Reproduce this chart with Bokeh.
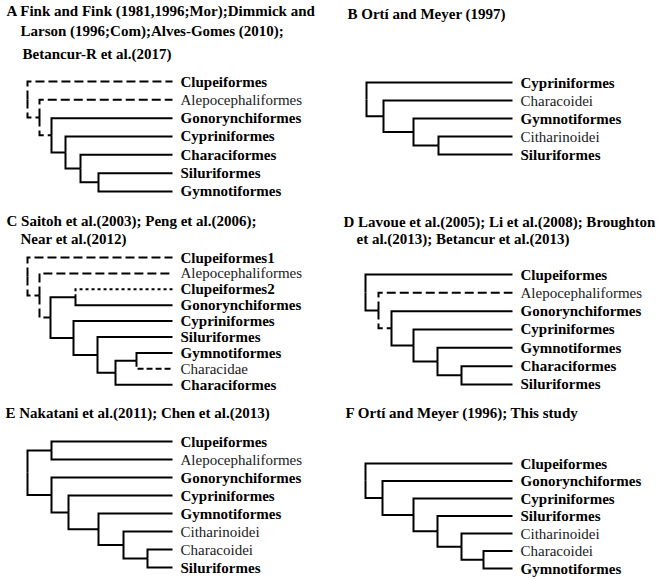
from bokeh.plotting import figure
from bokeh.models import Range1d, ColumnDataSource
from bokeh.embed import file_html
from bokeh.resources import INLINE
from bokeh.core.properties import value

# ------------------------------------------------------------------ data
regular_taxa = ["Alepocephaliformes", "Characoidei", "Citharinoidei", "Characidae"]

A_title = ["A Fink and Fink (1981,1996;Mor);Dimmick and",
           "Larson (1996;Com);Alves-Gomes (2010);",
           "Betancur-R et al.(2017)"]
A_tree = ("Clupeiformes", ("Alepocephaliformes", ("Gonorynchiformes", ("Cypriniformes",
          ("Characiformes", ("Siluriformes", "Gymnotiformes"))))))
A_depths = [0, 12, 24, 38, 53, 71]
A_tip = 145
A_dashed = ["Clupeiformes", "n1", "Alepocephaliformes", "n2"]
A_dotted = []
A_fine = []

B_title = ["B Ortí and Meyer (1997)"]
B_tree = ("Cypriniformes", ("Characoidei", ("Gymnotiformes", ("Citharinoidei", "Siluriformes"))))
B_depths = [0, 17, 47, 72]
B_tip = 146
B_dashed = []
B_dotted = []
B_fine = []

C_title = ["C Saitoh et al.(2003); Peng et al.(2006);", "Near et al.(2012)"]
C_tree = ("Clupeiformes1", ("Alepocephaliformes", (("Clupeiformes2", "Gonorynchiformes"),
          ("Cypriniformes", ("Siluriformes", (("Gymnotiformes", "Characidae"), "Characiformes"))))))
C_depths = [0, 12, 23, 48, 46, 70, 88, 109]
C_tip = 145
C_dashed = ["Clupeiformes1", "n1", "Alepocephaliformes", "n2"]
C_dotted = ["Clupeiformes2"]
C_fine = ["Characidae"]

D_title = ["D Lavoue et al.(2005); Li et al.(2008); Broughton",
           "et al.(2013); Betancur et al.(2013)"]
D_tree = ("Clupeiformes", ("Alepocephaliformes", ("Gonorynchiformes", ("Cypriniformes",
          ("Gymnotiformes", ("Characiformes", "Siluriformes"))))))
D_depths = [0, 13, 26, 48, 72, 96]
D_tip = 147
D_dashed = ["Alepocephaliformes", "n2"]
D_dotted = []
D_fine = []

E_title = ["E Nakatani et al.(2011); Chen et al.(2013)"]
E_tree = (("Clupeiformes", "Alepocephaliformes"), ("Gonorynchiformes", ("Cypriniformes",
          ("Gymnotiformes", ("Citharinoidei", ("Characoidei", "Siluriformes"))))))
E_depths = [0, 24, 24, 41, 71, 96, 120]
E_tip = 145
E_dashed = []
E_dotted = []
E_fine = []

F_title = ["F Ortí and Meyer (1996); This study"]
F_tree = ("Clupeiformes", ("Gonorynchiformes", ("Cypriniformes", ("Siluriformes",
          ("Citharinoidei", ("Characoidei", "Gymnotiformes"))))))
F_depths = [0, 17, 48, 72, 96, 118]
F_tip = 147
F_dashed = []
F_dotted = []
F_fine = []

# ------------------------------------------------------------------ layout
panels = [
    # tree, depths, tip, dashed, dotted, fine, title, root_x, y0, dy, title_x, title_y
    (A_tree, A_depths, A_tip, A_dashed, A_dotted, A_fine, A_title, 27, 81, 18.33,
     [6, 20, 22], [10.5, 30, 53]),
    (B_tree, B_depths, B_tip, B_dashed, B_dotted, B_fine, B_title, 366, 82, 18.0,
     [347], [13.3]),
    (C_tree, C_depths, C_tip, C_dashed, C_dotted, C_fine, C_title, 27, 257, 15.9,
     [6, 20], [220, 238.3]),
    (D_tree, D_depths, D_tip, D_dashed, D_dotted, D_fine, D_title, 365, 274, 18.33,
     [343, 356], [221, 238]),
    (E_tree, E_depths, E_tip, E_dashed, E_dotted, E_fine, E_title, 27, 441, 18.0,
     [5], [412]),
    (F_tree, F_depths, F_tip, F_dashed, F_dotted, F_fine, F_title, 365, 463, 17.5,
     [345], [412]),
]


def layout(tree, depths, tip, x0, y0, dy):
    cnt = {"leaf": 0, "node": 0}
    edges, leaves = [], []

    def rec(t):
        if isinstance(t, str):
            y = y0 + cnt["leaf"] * dy
            cnt["leaf"] += 1
            x = x0 + tip
            leaves.append((t, x, y))
            return t, x, y
        idx = cnt["node"]
        cnt["node"] += 1
        nid = "n%d" % idx
        x = x0 + depths[idx]
        kids = [rec(c) for c in t]
        y = (kids[0][2] + kids[-1][2]) / 2.0
        for cid, cx, cy in kids:
            edges.append((cid, x, y, cx, cy))
        return nid, x, y

    rec(tree)
    return edges, leaves


p = figure(width=660, height=580, output_backend="svg", toolbar_location=None,
           x_range=Range1d(0, 660), y_range=Range1d(580, 0),
           x_axis_type=None, y_axis_type=None, min_border=0)
p.grid.visible = False
p.outline_line_color = None
p.background_fill_color = "white"
p.border_fill_color = "white"

styles = {"solid": "solid", "dashed": "9 4", "dotted": "3 3", "fine": "6 3"}
groups = {k: ([], []) for k in styles}
bold_lbl = {"x": [], "y": [], "t": []}
reg_lbl = {"x": [], "y": [], "t": []}
title_lbl = {"x": [], "y": [], "t": []}

for (tree, depths, tip, dashed, dotted, fine, title, rx, y0, dy, tx, ty) in panels:
    edges, leaves = layout(tree, depths, tip, rx, y0, dy)
    for cid, px, py, cx, cy in edges:
        if cid in dashed:
            st = "dashed"
        elif cid in dotted:
            st = "dotted"
        elif cid in fine:
            st = "fine"
        else:
            st = "solid"
        groups[st][0].append([px, px, cx])
        groups[st][1].append([py, cy, cy])
    for name, x, y in leaves:
        d = reg_lbl if name in regular_taxa else bold_lbl
        d["x"].append(x + 8)
        d["y"].append(y)
        d["t"].append(name)
    for line, x, y in zip(title, tx, ty):
        title_lbl["x"].append(x)
        title_lbl["y"].append(y)
        title_lbl["t"].append(line)

for st, (xs, ys) in groups.items():
    if xs:
        p.multi_line(xs=xs, ys=ys, line_color="black", line_width=2,
                     line_dash=styles[st], line_join="miter", line_cap="butt")

font = value("Liberation Serif, Times New Roman, serif")
p.text(x="x", y="y", text="t", source=ColumnDataSource(bold_lbl), text_font=font,
       text_font_size="15px", text_font_style="bold", text_baseline="middle",
       text_color="black")
p.text(x="x", y="y", text="t", source=ColumnDataSource(reg_lbl), text_font=font,
       text_font_size="15px", text_font_style="normal", text_baseline="middle",
       text_color="#1a1a1a")
p.text(x="x", y="y", text="t", source=ColumnDataSource(title_lbl), text_font=font,
       text_font_size="15px", text_font_style="bold", text_baseline="middle",
       text_color="black")

open("out.html", "w").write(file_html(p, INLINE))
